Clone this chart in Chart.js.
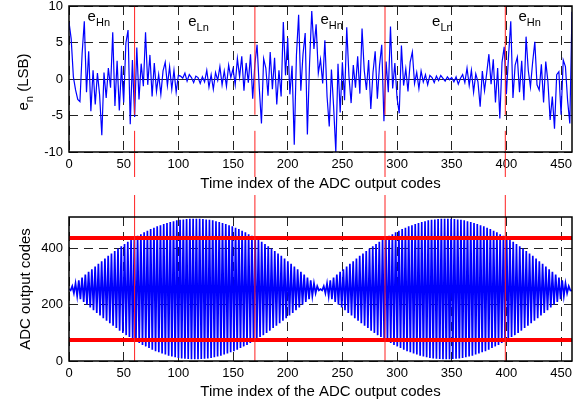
<!DOCTYPE html>
<html>
<head>
<meta charset="utf-8">
<script src="https://cdn.jsdelivr.net/npm/chart.js@4.4.1/dist/chart.umd.min.js"></script>
<style>
  html, body { margin: 0; padding: 0; background: #fff; }
  #wrap { position: relative; width: 583px; height: 408px; }
  canvas { position: absolute; left: 0; }
  #noiseCanvas { top: 0; }
  #codesCanvas { top: 195px; }
</style>
</head>
<body>
<div id="wrap">
  <canvas id="noiseCanvas" width="583" height="195"></canvas>
  <canvas id="codesCanvas" width="583" height="213"></canvas>
</div>
<script>
// ---- data ----
const xTicks = [0, 50, 100, 150, 200, 250, 300, 350, 400, 450];
const noiseTicks = [-10, -5, 0, 5, 10];
const codeTicks = [0, 200, 400];

// e_n in LSB, one value every 2 time indices (0 .. 460)
const noiseStep = 2;
const noiseLsb = [
  // 0 - 60
  7.8, 5.5, 0.3, -1.5, -2.8, -3.1, 3.5, 7.9, -1.8, 3.8, -4.4, 1.2, -3.5, 0.8, -2.2, -7.7,
  0.9, -2.6, 1.5, -1.2, 6.4, -3.7, 2.5, -4.3, 1.8, -3.2, 4.9, 6.7, -6.2, 2.6, -5.2,
  // 62 - 100
  4.3, -2.8, 2.1, -1.0, 6.4, -0.8, 3.3, -2.4, 2.2, -1.7, 0.6, -2.1, 1.1, 2.3, -0.9, 1.7,
  -1.4, 1.2, -1.8, 0.5,
  // 102 - 170
  0.4, 0.1, 0.8, -0.3, 0.6, 0.2, -0.5, 0.4, 0.2, -0.6, 0.3, -0.4, 1.2, -1.1, 0.6, -1.4,
  0.9, -0.2, 1.7, -0.8, 1.1, -1.0, 1.9, 0.2, 1.4, -0.8, 2.8, 0.3, 3.1, -1.6, 2.2, -0.5,
  3.4, -2.7, 2.1,
  // 172 - 290
  4.7, -1.2, -6.1, 2.8, 1.5, -2.3, 3.7, -1.4, 2.9, -3.5, 1.2, -2.4, 7.8, 0.5, 5.6, -2.1,
  1.8, -9.0, 3.3, 8.8, -1.6, 3.4, 6.3, -7.6, 2.2, 9.3, 4.1, 7.5, 0.8, 2.7, -0.6, 5.3,
  -2.4, -6.5, 1.3, -3.8, -10.0, 2.1, -4.6, 2.3, -2.9, 7.1, 0.4, -3.3, 1.9, -1.2, 3.1, -2.0,
  6.9, 1.2, -1.5, 2.6, -4.1, 0.9, 3.8, -2.7, 1.9, 4.7, -5.8, 2.4,
  // 292 - 400
  -1.8, 7.2, -1.3, 2.2, -2.6, -4.7, 4.6, -0.9, 1.4, -1.7, 2.3, 3.7, -0.6, 0.9, -1.3, 1.1,
  -0.4, 0.6, -0.8, 0.5, 0.2, -0.5, 0.4, -0.2, 0.5, 0.1, -0.3, 0.3, -0.1, 0.2, -0.4, 0.3,
  -0.7, 0.1, 0.6, -0.5, 1.5, -0.9, 1.2, -1.8, 0.7, -0.4, -3.8, 1.1, -1.6, 0.8, 3.4, -0.7,
  2.7, -3.2, 1.5, -5.4, 2.3, 4.4, -2.1,
  // 402 - 460
  3.2, 7.9, -2.6, 1.9, 3.0, -1.8, 2.5, -2.9, 5.8, 1.2, -1.1, 2.3, 5.1, -0.8, -1.5, 2.0,
  -3.2, 2.4, -0.4, -5.6, -2.4, -6.8, 0.6, 1.0, -4.9, 2.6, 1.7, -3.0, -6.1, 9.2
];

// ADC output codes, 308 equal steps across 0 .. 460
const adcSpan = 460;
const adcCodesFirst = [
  256, 251, 266, 241, 276, 231, 287, 220, 297, 210, 307, 200, 317, 190, 326, 181,
  336, 171, 346, 162, 355, 152, 364, 143, 374, 134, 382, 125, 391, 117, 400, 108,
  408, 100, 416, 92, 424, 85, 431, 77, 438, 70, 445, 64, 451, 57, 458, 52,
  463, 46, 469, 40, 474, 35, 479, 31, 483, 27, 487, 23, 491, 19, 494, 16,
  497, 13, 500, 11, 502, 9, 503, 8, 505, 7, 506, 6, 506, 6, 506, 6,
  506, 7, 505, 8, 503, 9, 502, 11, 500, 13, 497, 16, 494, 19, 491, 23,
  487, 27, 483, 31, 479, 35, 474, 40, 469, 46, 463, 52, 458, 57, 451, 64,
  445, 70, 438, 77, 431, 85, 424, 92, 416, 100, 408, 108, 400, 117, 391, 125,
  382, 134, 374, 143, 364, 152, 355, 162, 346, 171, 336, 181, 326, 190, 317, 200,
  307, 210, 297, 220, 287, 231, 276, 241, 266, 251, 256
];
const adcCodesSecond = [
  251, 266, 241, 276, 231, 287, 220, 297, 210, 307, 200, 317, 190, 326, 181,
  336, 171, 346, 162, 355, 152, 364, 143, 374, 134, 382, 125, 391, 117, 400, 108,
  408, 100, 416, 92, 424, 85, 431, 77, 438, 70, 445, 64, 451, 57, 458, 52,
  463, 46, 469, 40, 474, 35, 479, 31, 483, 27, 487, 23, 491, 19, 494, 16,
  497, 13, 500, 11, 502, 9, 503, 8, 505, 7, 506, 6, 506, 6, 506, 6,
  506, 7, 505, 8, 503, 9, 502, 11, 500, 13, 497, 16, 494, 19, 491, 23,
  487, 27, 483, 31, 479, 35, 474, 40, 469, 46, 463, 52, 458, 57, 451, 64,
  445, 70, 438, 77, 431, 85, 424, 92, 416, 100, 408, 108, 400, 117, 391, 125,
  382, 134, 374, 143, 364, 152, 355, 162, 346, 171, 336, 181, 326, 190, 317, 200,
  307, 210, 297, 220, 287, 231, 276, 241, 266, 251, 250
];

// red markers
const regionBounds = [60, 170, 289, 399];
const clipLevels = [437, 75];

// e_Hn / e_Ln labels
const regionSubs = ['Hn', 'Ln', 'Hn', 'Ln', 'Hn'];
const regionLabelX = [17, 109, 230, 332, 411];
const regionLabelY = [7.9, 7.3, 7.6, 7.3, 7.9];

// ---- drawing ----
const fontFamily = "'Liberation Sans', Arial, Helvetica, sans-serif";
Chart.defaults.font.family = fontFamily;
Chart.defaults.color = '#000';

const adcCodes = adcCodesFirst.concat(adcCodesSecond);
const adcStep = adcSpan / (adcCodes.length - 1);

function fixedTicks(list) {
  return scale => { scale.ticks = list.map(v => ({ value: v })); };
}

function xAxis(height, titlePad) {
  return {
    type: 'linear',
    min: 0,
    max: 460,
    afterBuildTicks: fixedTicks(xTicks),
    afterFit: s => { s.height = height; s.paddingLeft = 0; s.paddingRight = 0; },
    grid: { color: '#222', lineWidth: 1, drawTicks: false },
    border: { display: false, dash: [9, 6] },
    ticks: { padding: 5, font: { size: 13 }, color: '#000', maxRotation: 0, autoSkip: false },
    title: {
      display: true,
      text: 'Time index of the ADC output codes',
      color: '#000',
      font: { size: 15 },
      padding: { top: 0, bottom: titlePad }
    }
  };
}

function yAxis(min, max, list, extra) {
  return Object.assign({
    type: 'linear',
    min,
    max,
    afterBuildTicks: fixedTicks(list),
    afterFit: s => { s.width = 69; s.paddingTop = 0; s.paddingBottom = 0; },
    grid: { color: '#222', lineWidth: 1, drawTicks: false },
    border: { display: false, dash: [9, 6] },
    ticks: { padding: 6, font: { size: 13 }, color: '#000' }
  }, extra);
}

// red vertical markers, box and free text
const decorPlugin = {
  id: 'decor',
  afterDatasetsDraw(chart, args, opts) {
    const { ctx, scales } = chart;
    ctx.save();
    ctx.strokeStyle = '#ff2020';
    ctx.lineWidth = 1;
    const spans = opts.spans(chart);
    regionBounds.forEach(b => {
      const px = scales.x.getPixelForValue(b);
      spans.forEach(([a, c]) => {
        ctx.beginPath();
        ctx.moveTo(px, a);
        ctx.lineTo(px, c);
        ctx.stroke();
      });
    });
    ctx.restore();
  },
  afterDraw(chart, args, opts) {
    const { ctx, chartArea } = chart;
    ctx.save();
    ctx.strokeStyle = '#000';
    ctx.lineWidth = 1.5;
    ctx.strokeRect(chartArea.left, chartArea.top, chartArea.right - chartArea.left, chartArea.bottom - chartArea.top);
    ctx.restore();
    if (opts.extra) opts.extra(chart);
  }
};

function drawSubText(ctx, x, y, main, sub) {
  ctx.font = '15px ' + fontFamily;
  ctx.fillText(main, x, y);
  const w = ctx.measureText(main).width;
  ctx.font = '11px ' + fontFamily;
  ctx.fillText(sub, x + w, y + 5);
  return w + ctx.measureText(sub).width;
}

function noiseExtras(chart) {
  const { ctx, chartArea, scales } = chart;
  ctx.save();
  ctx.fillStyle = '#000';
  ctx.textBaseline = 'alphabetic';
  ctx.textAlign = 'left';
  regionSubs.forEach((sub, i) => {
    drawSubText(ctx, scales.x.getPixelForValue(regionLabelX[i]), scales.y.getPixelForValue(regionLabelY[i]), 'e', sub);
  });
  // y title e_n (LSB)
  ctx.translate(28, (chartArea.top + chartArea.bottom) / 2 + 3);
  ctx.rotate(-Math.PI / 2);
  ctx.font = '15px ' + fontFamily;
  const wE = ctx.measureText('e').width;
  ctx.font = '11px ' + fontFamily;
  const wN = ctx.measureText('n').width;
  ctx.font = '15px ' + fontFamily;
  const wRest = ctx.measureText(' (LSB)').width;
  const x0 = -(wE + wN + wRest) / 2;
  drawSubText(ctx, x0, 0, 'e', 'n');
  ctx.font = '15px ' + fontFamily;
  ctx.fillText(' (LSB)', x0 + wE + wN, 0);
  ctx.restore();
}

new Chart(document.getElementById('noiseCanvas'), {
  type: 'line',
  data: {
    datasets: [{
      data: noiseLsb.map((v, i) => ({ x: i * noiseStep, y: v })),
      borderColor: '#0000ff',
      borderWidth: 1.2,
      pointRadius: 0,
      tension: 0
    }]
  },
  options: {
    responsive: false,
    animation: false,
    devicePixelRatio: 1,
    layout: { padding: { top: 6, right: 11, left: 0, bottom: 0 } },
    plugins: {
      legend: { display: false },
      tooltip: { enabled: false },
      decor: {
        spans: c => [
          [c.chartArea.top, c.scales.y.getPixelForValue(-4.9)],
          [c.scales.y.getPixelForValue(-7.1), c.height - 18]
        ],
        extra: noiseExtras
      }
    },
    scales: {
      x: xAxis(43, 2),
      y: yAxis(-10, 10, noiseTicks, {
        border: { display: false, dash: c => (c.tick && c.tick.value === 0) ? [] : [9, 6] }
      })
    }
  },
  plugins: [decorPlugin]
});

new Chart(document.getElementById('codesCanvas'), {
  type: 'line',
  data: {
    datasets: [
      {
        data: [{ x: 0, y: clipLevels[0] }, { x: 460, y: clipLevels[0] }],
        borderColor: '#ff0000',
        borderWidth: 4,
        pointRadius: 0
      },
      {
        data: [{ x: 0, y: clipLevels[1] }, { x: 460, y: clipLevels[1] }],
        borderColor: '#ff0000',
        borderWidth: 4,
        pointRadius: 0
      },
      {
        data: adcCodes.map((v, i) => ({ x: i * adcStep, y: v })),
        borderColor: '#0000ff',
        borderWidth: 1.7,
        pointRadius: 0,
        tension: 0
      }
    ]
  },
  options: {
    responsive: false,
    animation: false,
    devicePixelRatio: 1,
    layout: { padding: { top: 22, right: 11, left: 0, bottom: 0 } },
    plugins: {
      legend: { display: false },
      tooltip: { enabled: false },
      decor: {
        spans: c => [[0, c.chartArea.bottom]]
      }
    },
    scales: {
      x: xAxis(47, 7),
      y: yAxis(0, 512, codeTicks, {
        title: {
          display: true,
          text: 'ADC output codes',
          color: '#000',
          font: { size: 15 },
          padding: { top: 17, bottom: 0 }
        }
      })
    }
  },
  plugins: [decorPlugin]
});
</script>
</body>
</html>
